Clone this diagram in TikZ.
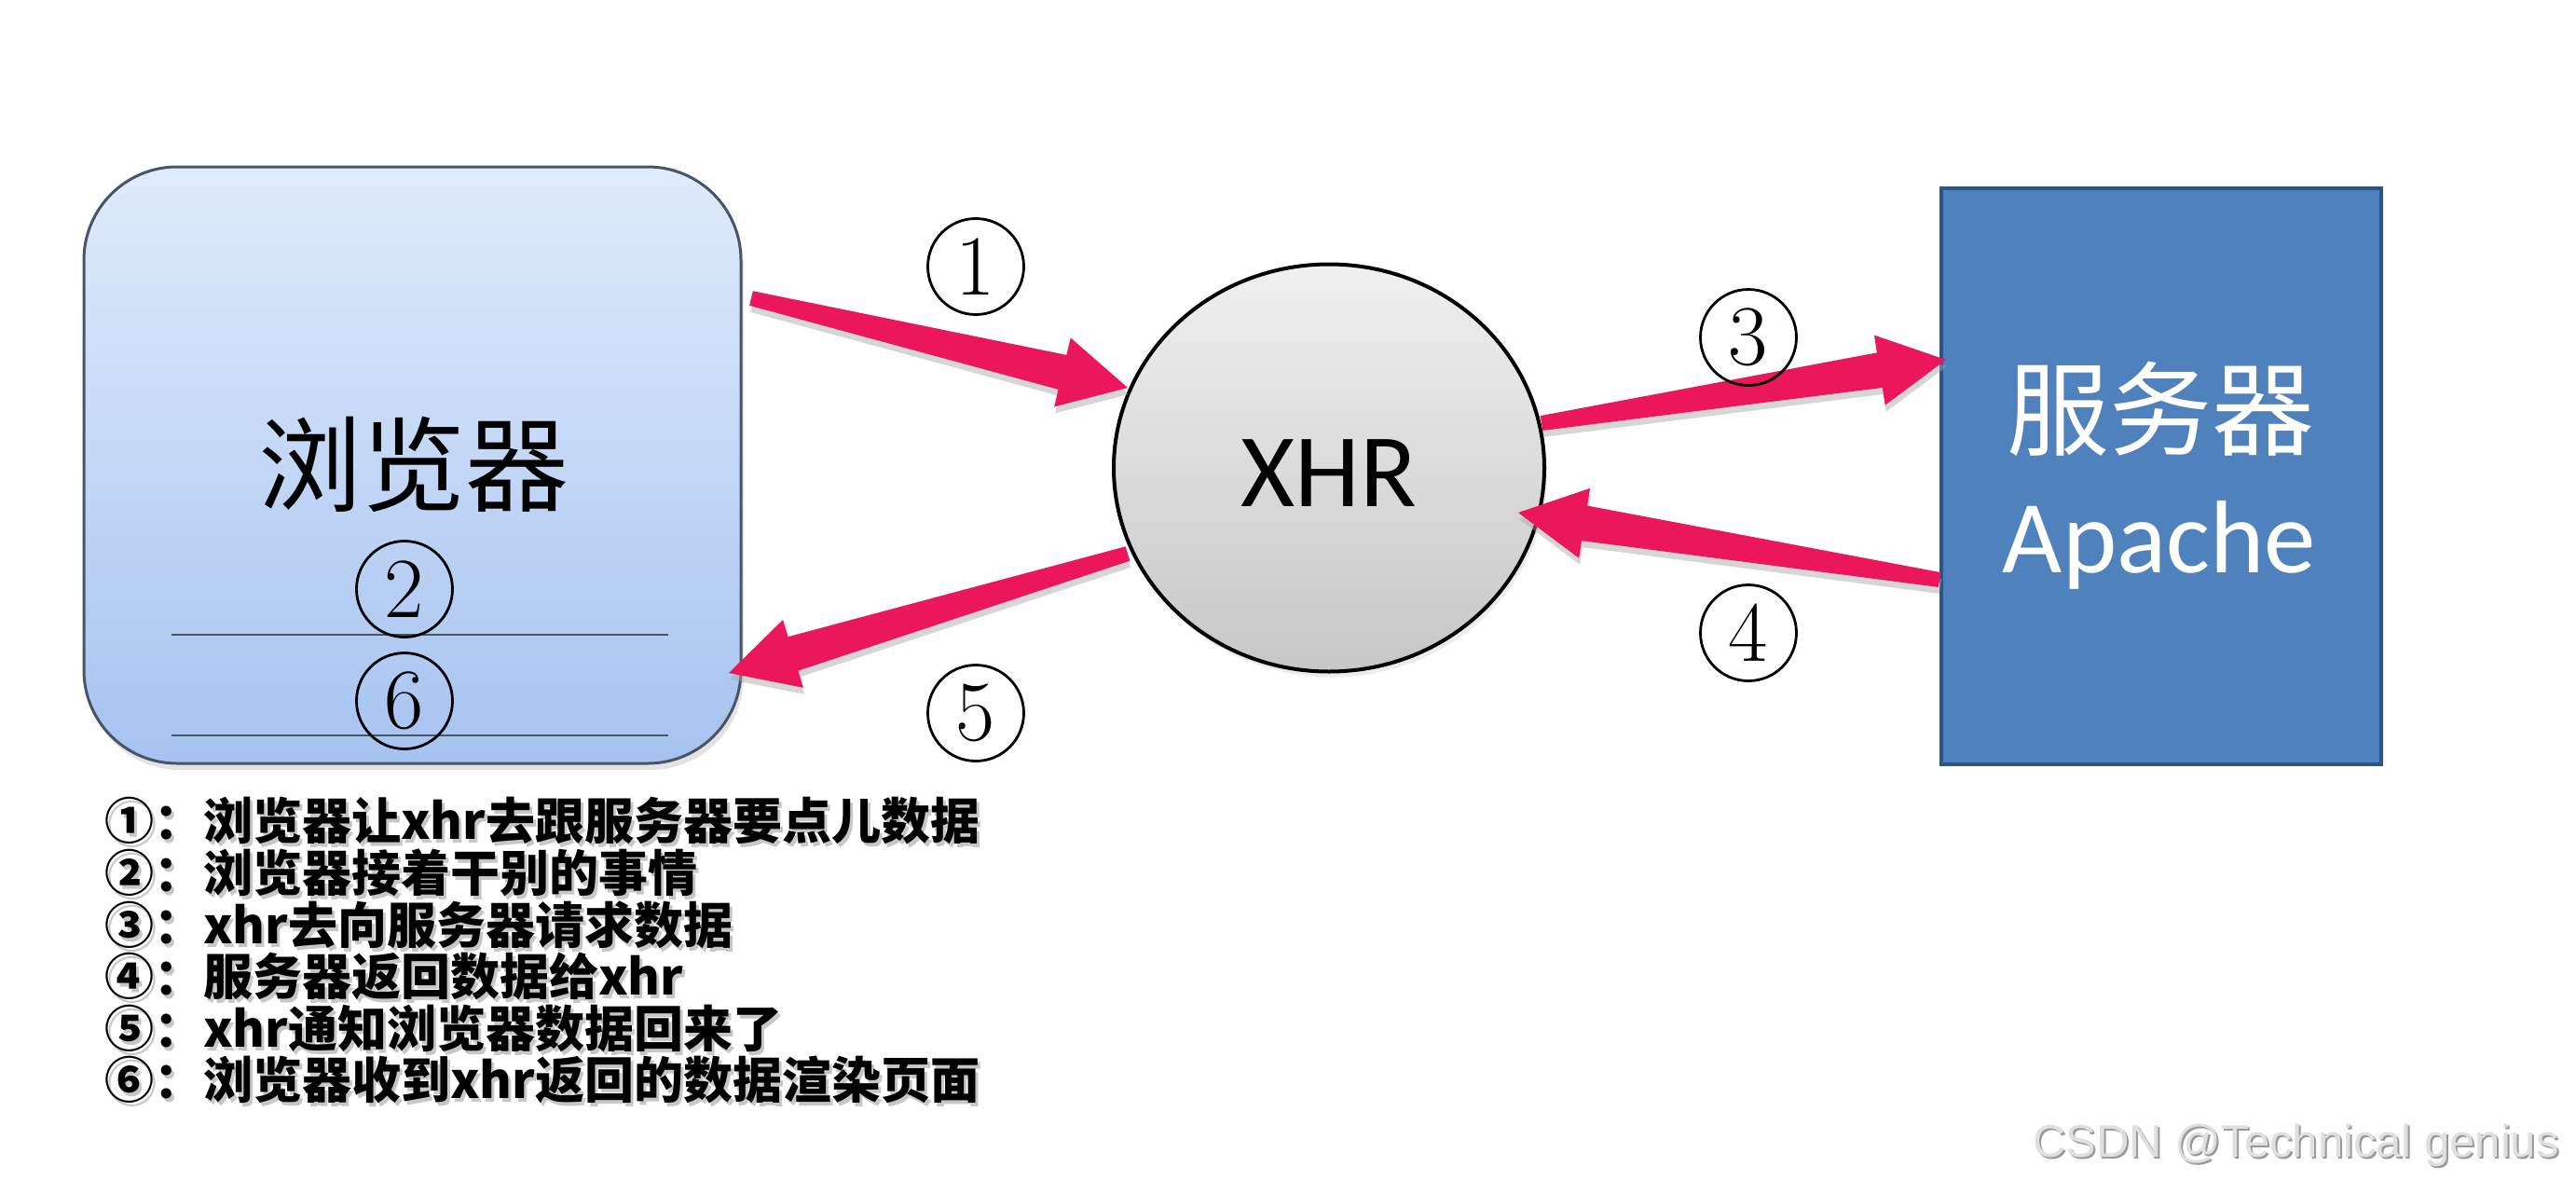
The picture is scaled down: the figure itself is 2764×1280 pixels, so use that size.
\documentclass[tikz,border=0pt]{standalone}
\usepackage{fontspec}
\newfontfamily\cjk{Noto Sans CJK SC}
\newfontfamily\carlito{Carlito}
\newfontfamily\libsans{Liberation Sans}
\usetikzlibrary{calc,shadows,shapes.geometric}
\definecolor{arrowred}{RGB}{236,22,90}
\definecolor{boxtop}{RGB}{224,235,251}
\definecolor{boxbot}{RGB}{166,195,240}
\definecolor{boxedge}{RGB}{72,84,104}
\definecolor{srvfill}{RGB}{79,129,189}
\definecolor{srvedge}{RGB}{44,84,136}
\newcommand\fatarrowpath[2]{($(#1)!8pt!90:(#2)$) -- ($(fa-h)!19pt!90:(#2)$) -- ($(fa-h)!38pt!90:(#2)$) -- (#2) -- ($(fa-h)!38pt!-90:(#2)$) -- ($(fa-h)!19pt!-90:(#2)$) -- ($(#1)!8pt!-90:(#2)$) -- cycle}
\newcommand\fatarrow[2]{%
  \coordinate (fa-h) at ($(#2)!72pt!(#1)$);
  \fill[black!35, opacity=.45, transform canvas={xshift=1pt,yshift=-7pt}] \fatarrowpath{#1}{#2};
  \fill[arrowred] \fatarrowpath{#1}{#2};
}
\newcommand\legrow[3]{%
  \node[legendtxt, text=black!22] (#1s) at (115,#2+4) {#3};
  \node[legendtxt] (#1) at (112,#2) {#3};
}
\begin{document}
\begin{tikzpicture}[x=1pt,y=-1pt,
  browserbox/.style={draw=boxedge, line width=3pt, rounded corners=100pt,
    top color=boxtop, bottom color=boxbot, minimum width=705pt, minimum height=640pt,
    inner sep=0pt, drop shadow={opacity=.22, shadow xshift=3pt, shadow yshift=-7pt}},
  xhrnode/.style={ellipse, draw=black, line width=4pt, top color=black!6, bottom color=black!22,
    minimum width=462pt, minimum height=437pt, inner sep=0pt,
    drop shadow={opacity=.15, shadow xshift=3pt, shadow yshift=-6pt}},
  serverbox/.style={draw=srvedge, line width=4pt, fill=srvfill, minimum width=472pt,
    minimum height=618pt, inner sep=0pt},
  circnum/.style={circle, draw=black, line width=2.8pt, minimum size=103pt, inner sep=0pt,
    font=\fontsize{92}{92}\selectfont},
  bigcjk/.style={anchor=base, inner sep=0pt, text height=88pt, text depth=6pt,
    font=\cjk\fontsize{111}{111}\selectfont},
  biglat/.style={anchor=base, inner sep=0pt, font=\carlito\fontsize{111}{111}\selectfont},
  legendtxt/.style={anchor=base west, inner sep=0pt, text height=42pt, text depth=6pt,
    font=\cjk\bfseries\fontsize{53}{53}\selectfont},
  sepline/.style={draw=boxedge, line width=2pt},
]
\useasboundingbox (0,0) rectangle (2764,1280);
\fill[white] (0,0) rectangle (2764,1280);

% browser
\node[browserbox] (browser) at (442.5,499) {};
\node[bigcjk] (browsertxt) at (444,540) {浏览器};
\coordinate (l1a) at (184,681); \coordinate (l1b) at (717,681);
\coordinate (l2a) at (184,789); \coordinate (l2b) at (717,789);
\draw[sepline] (l1a) -- (l1b);
\draw[sepline] (l2a) -- (l2b);
\node[circnum] (c2) at (434,632) {2};
\node[circnum] (c6) at (434,752) {6};

% XHR
\node[xhrnode] (xhr) at (1426,502) {};
\node[biglat, font=\carlito\fontsize{112}{112}\selectfont] (xhrtxt) at (1426,543) {XHR};

% server
\node[serverbox] (server) at (2319,511) {};
\node[bigcjk, text=white, font=\cjk\fontsize{110}{110}\selectfont] (srvtxt) at (2318,480) {服务器};
\node[biglat, text=white] (apache) at (2317,614) {Apache};

% arrows
\coordinate (a1s) at (806,320); \coordinate (a1e) at (1210,416);
\coordinate (a3s) at (1654,454); \coordinate (a3e) at (2088,386);
\coordinate (a4s) at (2081,622); \coordinate (a4e) at (1629,550);
\coordinate (a5s) at (1210,594); \coordinate (a5e) at (782,722);
\fatarrow{a1s}{a1e}
\fatarrow{a3s}{a3e}
\fatarrow{a4s}{a4e}
\fatarrow{a5s}{a5e}

% step labels
\node[circnum] (c1) at (1047,286) {1};
\node[circnum] (c3) at (1876,362) {3};
\node[circnum] (c4) at (1876,679) {4};
\node[circnum] (c5) at (1047,765) {5};

% legend
\legrow{r1}{900}{①：浏览器让xhr去跟服务器要点儿数据}
\legrow{r2}{956}{②：浏览器接着干别的事情}
\legrow{r3}{1012}{③：xhr去向服务器请求数据}
\legrow{r4}{1067}{④：服务器返回数据给xhr}
\legrow{r5}{1123}{⑤：xhr通知浏览器数据回来了}
\legrow{r6}{1178}{⑥：浏览器收到xhr返回的数据渲染页面}

% watermark
\node[anchor=east, inner sep=0pt, text=black!40, font=\libsans\fontsize{49}{49}\selectfont] (wms) at (2748,1231) {CSDN @Technical genius};
\node[anchor=east, inner sep=0pt, text=black!12, font=\libsans\fontsize{49}{49}\selectfont] (wm) at (2746,1229) {CSDN @Technical genius};
\end{tikzpicture}
\end{document}
